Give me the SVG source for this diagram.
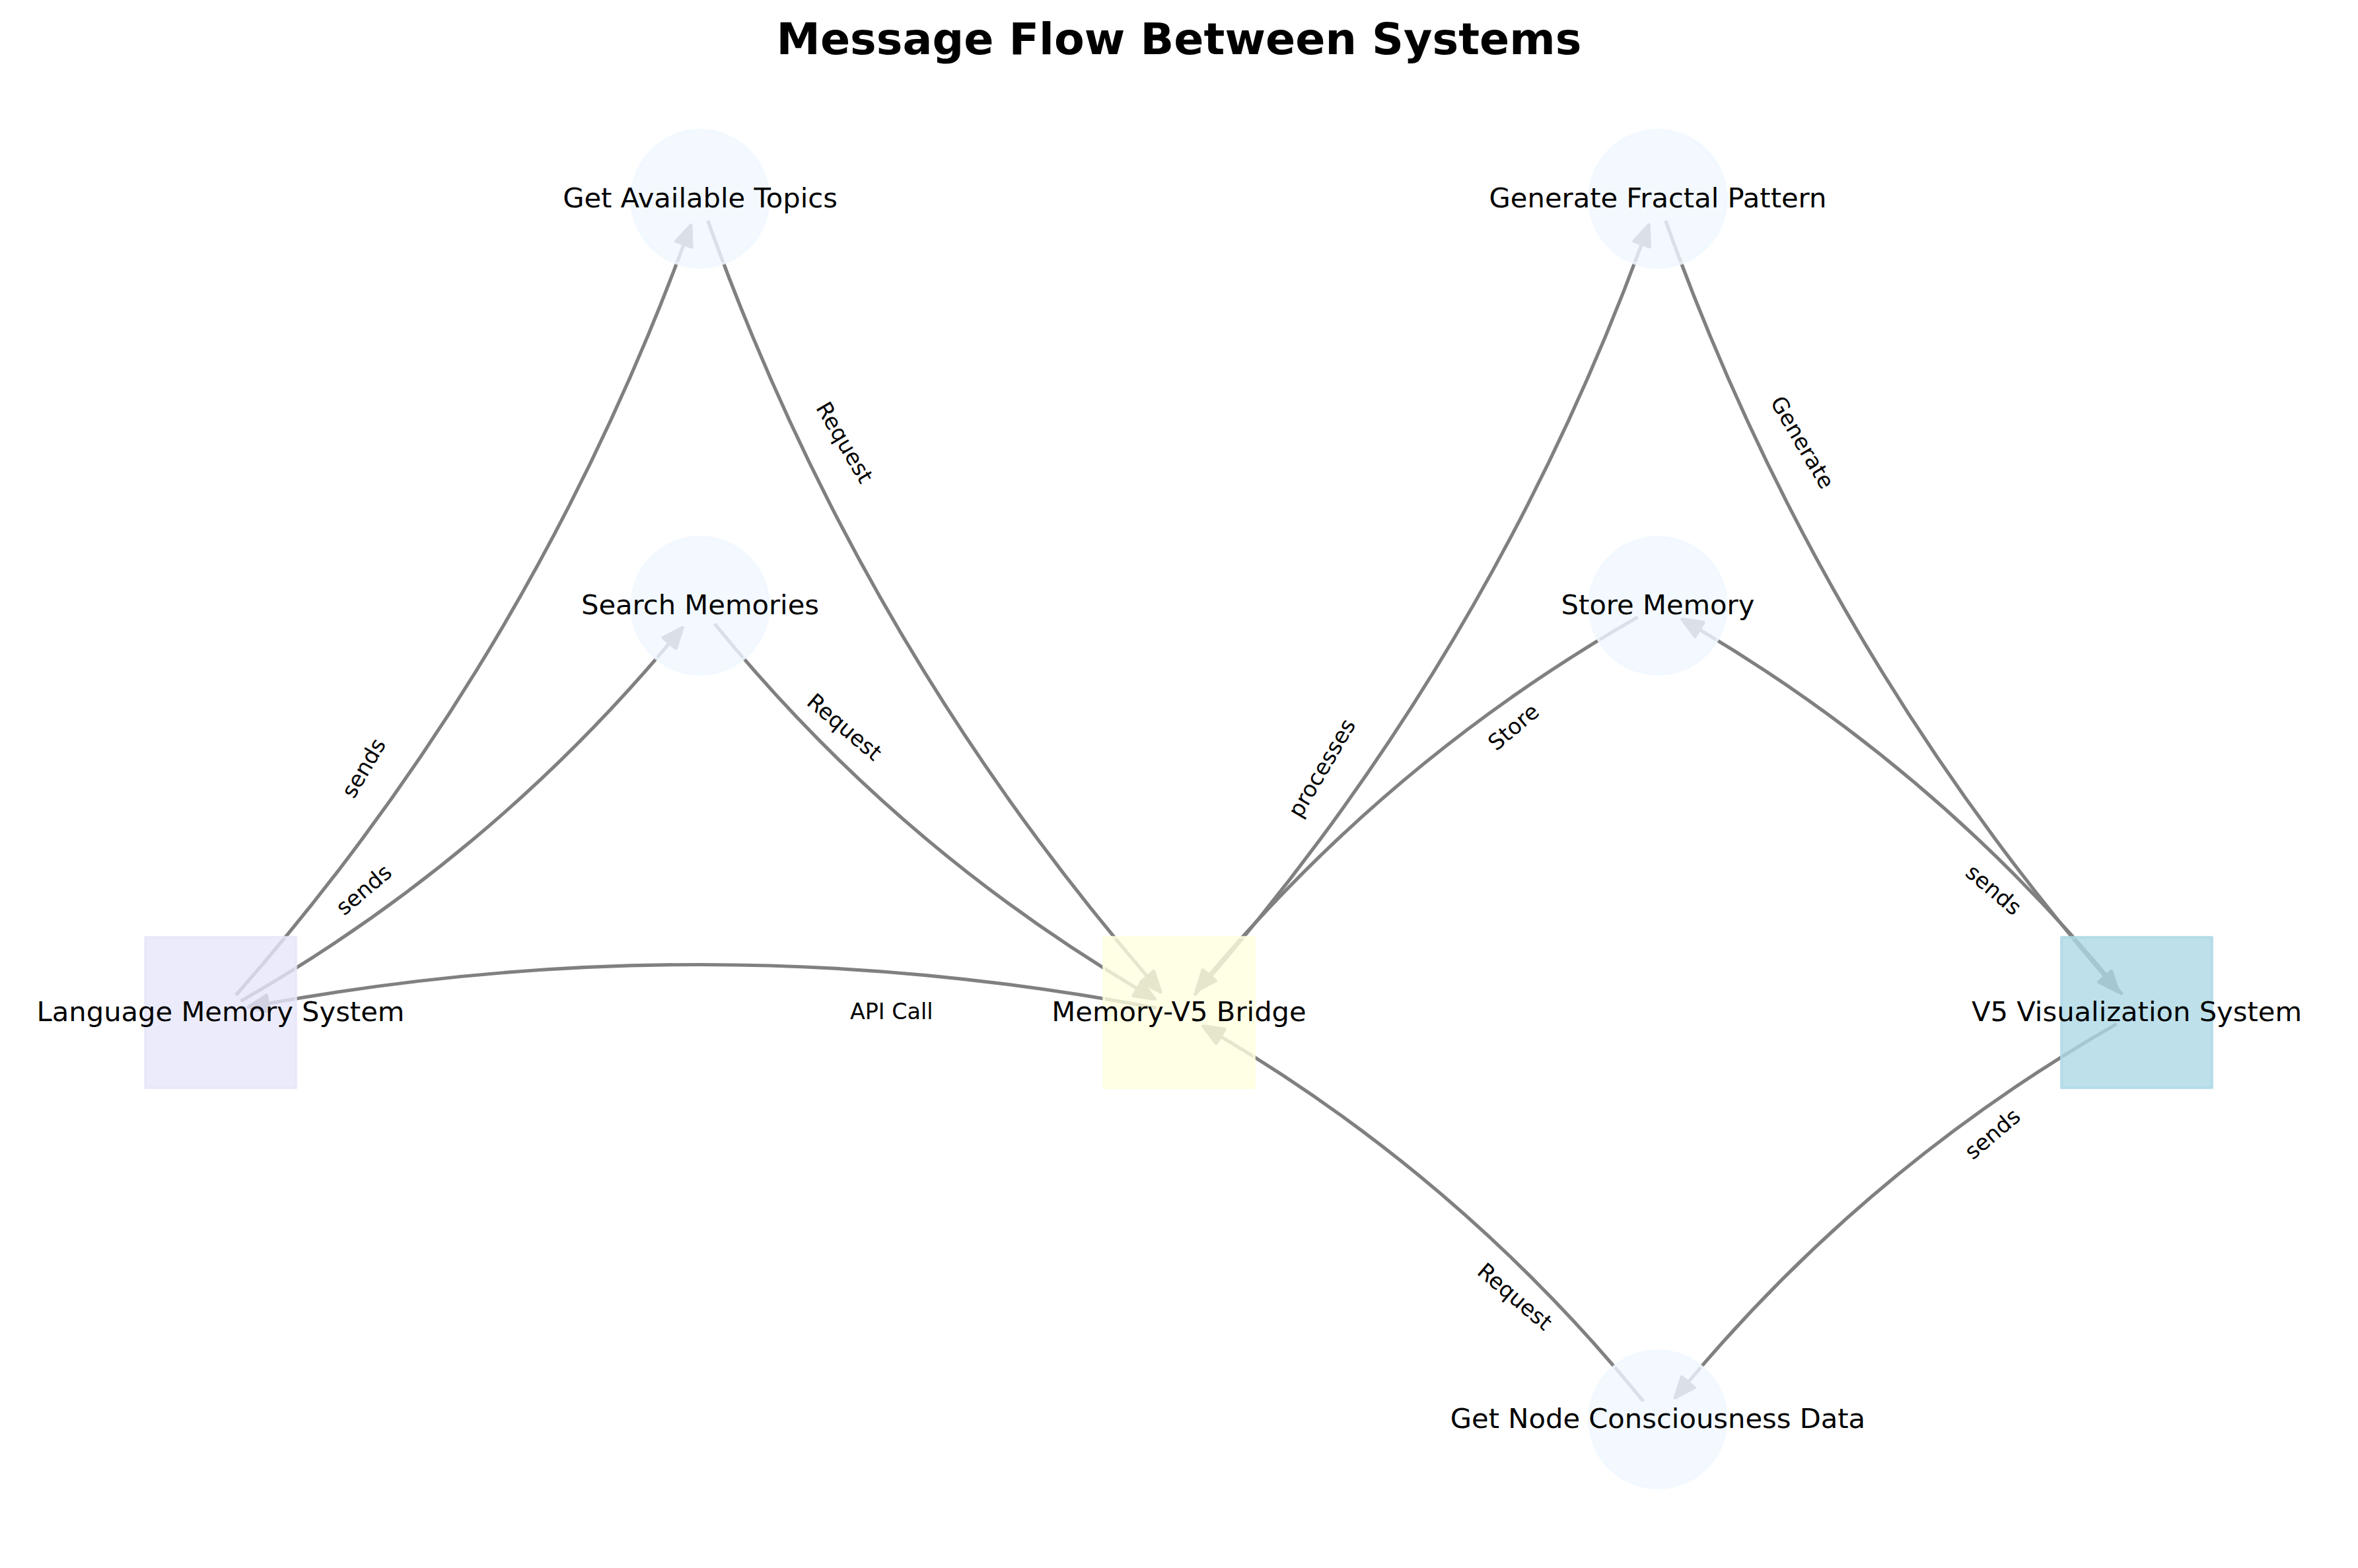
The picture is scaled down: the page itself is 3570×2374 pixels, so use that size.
<svg xmlns="http://www.w3.org/2000/svg" width="3570" height="2374" viewBox="0 0 3570 2374">
<style>
.edge{fill:none;stroke:#808080;stroke-width:5.2;marker-end:url(#ah)}
.sq{stroke-width:4;stroke-linejoin:round;fill-opacity:0.8;stroke-opacity:0.8}
.ci{fill:#F0F8FF;stroke:#F0F8FF;stroke-width:4;fill-opacity:0.8;stroke-opacity:0.8}
.nl{font-family:"DejaVu Sans","Liberation Sans",sans-serif;font-size:41.67px;fill:#000;text-anchor:middle}
.el{font-family:"DejaVu Sans","Liberation Sans",sans-serif;font-size:33.33px;fill:#000;text-anchor:middle}
.title{font-family:"DejaVu Sans","Liberation Sans",sans-serif;font-size:66.67px;font-weight:bold;fill:#000;text-anchor:middle}
</style>
<defs>
<marker id="ah" markerUnits="userSpaceOnUse" orient="auto" refX="0" refY="0" markerWidth="60" markerHeight="60" viewBox="-10 -30 60 60" overflow="visible">
<path d="M0,-12.5 L30.5,0 L0,12.5 Z" fill="#808080" stroke="#808080" stroke-width="5" stroke-linejoin="round"/>
</marker>
</defs>
<rect width="3570" height="2374" fill="#fff"/>
<text class="title" x="1785" y="82">Message Flow Between Systems</text>
<g id="edges">
<path class="edge" d="M357.2,1506.8 Q801.9,1000.4 1035.4,369.6"/>
<path class="edge" d="M364.5,1515.8 Q737.7,1302.0 1013.7,973.6"/>
<path class="edge" d="M1071.6,334.0 Q1298.8,968.5 1737.2,1478.6"/>
<path class="edge" d="M1081.9,944.3 Q1353.4,1277.9 1722.2,1497.0"/>
<path class="edge" d="M1750.7,1526.3 Q1078.1,1398.2 405.6,1519.4"/>
<path class="edge" d="M1808.2,1506.8 Q2252.6,1000.1 2485.7,369.2"/>
<path class="edge" d="M2479.6,934.2 Q2106.4,1148.2 1830.7,1476.8"/>
<path class="edge" d="M2521.6,334.0 Q2748.8,968.5 3187.2,1478.6"/>
<path class="edge" d="M3213.1,1505.7 Q2941.6,1172.1 2572.8,953.0"/>
<path class="edge" d="M3204.6,1550.2 Q2831.4,1764.2 2555.7,2092.8"/>
<path class="edge" d="M2488.1,2121.7 Q2216.6,1788.1 1847.8,1569.0"/>
</g>
<g id="node-language-memory"><rect class="sq" x="220" y="1419" width="228" height="228" fill="#E6E6FA" stroke="#E6E6FA"/></g>
<g id="node-bridge"><rect class="sq" x="1671" y="1419" width="228" height="228" fill="#FFFFE0" stroke="#FFFFE0"/></g>
<g id="node-v5"><rect class="sq" x="3121" y="1419" width="228" height="228" fill="#ADD8E6" stroke="#ADD8E6"/></g>
<g id="node-get-topics"><circle class="ci" cx="1060" cy="301" r="104"/></g>
<g id="node-search"><circle class="ci" cx="1060" cy="917" r="104"/></g>
<g id="node-fractal"><circle class="ci" cx="2510" cy="301" r="104"/></g>
<g id="node-store"><circle class="ci" cx="2510" cy="917" r="104"/></g>
<g id="node-consciousness"><circle class="ci" cx="2510" cy="2149" r="104"/></g>
<g id="node-labels">
<text class="nl" x="334" y="1545.5">Language Memory System</text>
<text class="nl" x="1785" y="1545.5">Memory-V5 Bridge</text>
<text class="nl" x="3235" y="1545.5">V5 Visualization System</text>
<text class="nl" x="1060" y="313.5">Get Available Topics</text>
<text class="nl" x="1060" y="929.5">Search Memories</text>
<text class="nl" x="2510" y="313.5">Generate Fractal Pattern</text>
<text class="nl" x="2510" y="929.5">Store Memory</text>
<text class="nl" x="2510" y="2161.5">Get Node Consciousness Data</text>
</g>
<g id="edge-labels">
<text class="el" transform="translate(551.8,1163.4) rotate(-59.5)" dy="0.3em">sends</text>
<text class="el" transform="translate(551.8,1348.2) rotate(-40.3)" dy="0.3em">sends</text>
<text class="el" transform="translate(1277.5,670.6) rotate(59.5)" dy="0.3em">Request</text>
<text class="el" transform="translate(1277.5,1101.8) rotate(40.3)" dy="0.3em">Request</text>
<text class="el" transform="translate(1349.7,1533)" dy="0.3em">API Call</text>
<text class="el" transform="translate(2002.5,1163.4) rotate(-59.5)" dy="0.3em">processes</text>
<text class="el" transform="translate(2292.5,1101.8) rotate(-40.3)" dy="0.3em">Store</text>
<text class="el" transform="translate(2727.5,670.6) rotate(59.5)" dy="0.3em">Generate</text>
<text class="el" transform="translate(3017.5,1348.2) rotate(40.3)" dy="0.3em">sends</text>
<text class="el" transform="translate(3017.5,1717.8) rotate(-40.3)" dy="0.3em">sends</text>
<text class="el" transform="translate(2292.5,1964.2) rotate(40.3)" dy="0.3em">Request</text>
</g>
</svg>
